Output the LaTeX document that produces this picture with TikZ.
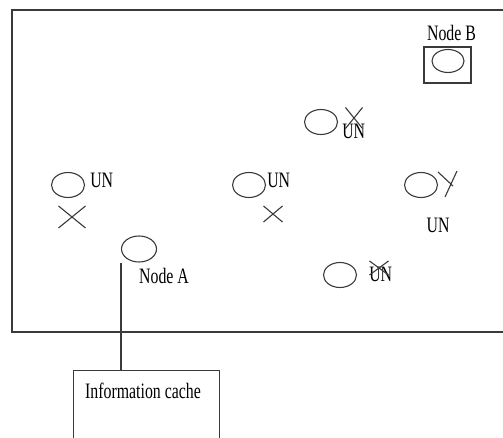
\documentclass[tikz,border=0pt]{standalone}
\usepackage{fontspec}
\usepackage{xcolor}
\newfontfamily\figserif[FakeStretch=0.72]{Liberation Serif}
\usetikzlibrary{positioning, shapes.geometric, shapes.misc}
\definecolor{linegray}{HTML}{3A3A3A}

\begin{document}
\begin{tikzpicture}[x=1pt, y=-1pt,
    node distance=4pt and 4pt,
    nd/.style={draw=linegray, ellipse, line width=1.1pt, minimum width=33pt, minimum height=25pt, inner sep=0pt},
    lbl/.style={font=\figserif\fontsize{22}{24}\selectfont, inner sep=0pt, text=black},
    xmark/.style={draw=linegray, cross out, line width=1.1pt, inner sep=0pt},
    box/.style={draw=linegray, line width=1.3pt, inner sep=0pt}
  ]
    \useasboundingbox (0,0) rectangle (503,438);
    \clip (0,0) rectangle (503,438);
    % network area
    \draw[linegray, line width=2pt] (12,10) rectangle (530,332);

    % node B
    \node[box, minimum width=47pt, minimum height=36pt] (nbbox) at (447.5,65) {};
    \node[nd, minimum width=32pt, minimum height=23pt] (nodeb) at (448,61) {};
    \node[lbl, above=5pt of nbbox, xshift=4pt] (nodeblbl) {Node B};

    % unknown nodes
    \node[nd] (un1) at (321,122) {};
    \node[nd] (un2) at (68,185) {};
    \node[nd] (un3) at (249,185) {};
    \node[nd] (un4) at (421,185) {};
    \node[nd] (un5) at (340,275) {};
    \node[lbl, right=4pt of un1, yshift=-9pt] (un1lbl) {UN};
    \node[lbl, right=5pt of un2, yshift=5pt] (un2lbl) {UN};
    \node[lbl, right=1pt of un3, yshift=5pt] (un3lbl) {UN};
    \node[lbl, below=20pt of un4, xshift=17pt] (un4lbl) {UN};
    \node[lbl, right=12pt of un5, yshift=1pt] (un5lbl) {UN};

    % crosses
    \node[xmark, minimum width=16pt, minimum height=20pt] (x1) at (354,118) {};
    \node[xmark, minimum width=26pt, minimum height=21pt] (x2) at (72,217) {};
    \node[xmark, minimum width=18pt, minimum height=15pt] (x3) at (273,214) {};
    \node[xmark, minimum width=18pt, minimum height=13pt] (x5) at (379,268) {};
    \draw[linegray, line width=1.1pt] (438,172) -- (453,186) (457,171) -- (445,197);

    % node A and cache
    \node[nd, minimum width=35pt, minimum height=26pt] (nodea) at (139,249) {};
    \node[lbl, below right=5pt and 0pt of nodea.south] (nodealbl) {Node A};
    \node[box, minimum width=146pt, minimum height=80pt, anchor=north west] (cache) at (73,370) {};
    \node[lbl, anchor=north west] (cachelbl) at ([xshift=12pt, yshift=-13pt]cache.north west) {Information cache};
    \draw[linegray, line width=1.1pt] (nodea.west |- nodea.south) -- (nodea.west |- cache.north);
  \end{tikzpicture}
\end{document}
